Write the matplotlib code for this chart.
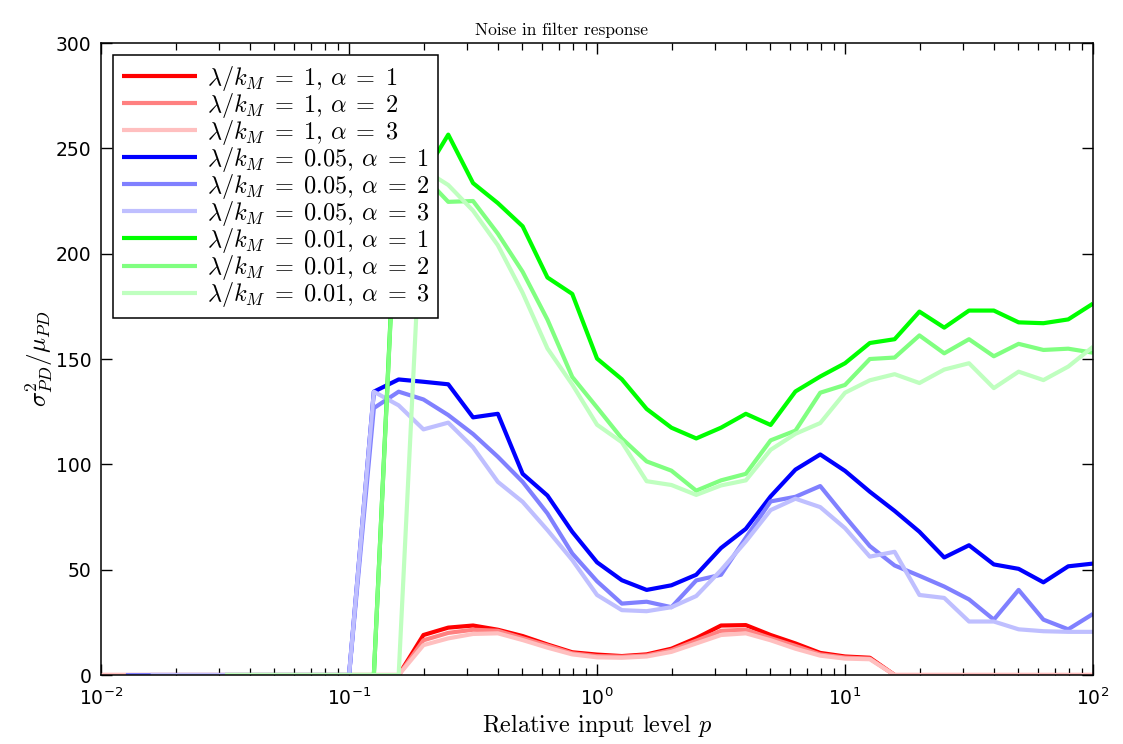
import numpy as np
import matplotlib
matplotlib.use('Agg')
import matplotlib.pyplot as plt

plt.rcParams['mathtext.fontset'] = 'cm'

nan = np.nan

# input level grid, 10 samples per decade from 1e-2 to 1e2
p = np.logspace(-2, 2, 41)

red1 = [0]*13 + [19, 22.5, 23.5, 21.5, 18.5, 14.5, 10.8, 9.7, 9, 9.8, 12.5, 17.5, 23.5, 23.7,
                 19, 15, 10.5, 8.8, 8.2] + [0]*9
red2 = [0]*13 + [16.5, 20, 21.5, 21, 17.5, 14, 10.3, 9, 8.7, 9.3, 11.8, 16.3, 21, 21.5,
                 17.5, 13.8, 9.8, 8.3, 7.8] + [0]*9
red3 = [0]*13 + [14.2, 17.4, 19.5, 19.8, 16.6, 13, 9.8, 8.4, 8.2, 8.8, 11, 15, 19, 19.8,
                 16.5, 12.5, 9.2, 7.8, 7.5] + [0]*9

blue1 = [nan]*2 + [0]*9 + [134.5, 140.3, 139.2, 138, 122.3, 124, 95.5, 85.2, 68, 53.5, 45, 40.4,
                           42.6, 47.6, 60.3, 69.4, 84.8, 97.5, 104.7, 96.9, 87, 77.9, 68, 55.8,
                           61.6, 52.5, 50.4, 44, 51.6, 52.9]
blue2 = [nan]*1 + [0]*10 + [126.7, 134.5, 130.8, 123.4, 114.4, 103.6, 91.7, 76.7, 57.7, 44.5, 33.9,
                            34.8, 32.2, 44.9, 47.6, 65.2, 82.4, 84.6, 89.7, 75.2, 61.2, 52, 47.1,
                            42, 35.9, 26.3, 40.4, 26.3, 21.7, 29]
blue3 = [nan]*2 + [0]*9 + [134.5, 128, 116.6, 119.8, 108.1, 91.7, 82.2, 68.8, 54.6, 38, 30.8, 30.3,
                           32.2, 37.5, 49.8, 63.4, 78.3, 83.7, 79.7, 69.7, 56.2, 58.5, 38, 36.6,
                           25.4, 25.4, 21.7, 20.8, 20.5, 20.5]

green1 = [nan]*5 + [0]*7 + [252, 237, 256.5, 233.5, 224, 213, 188.7, 180.9, 150.2, 140.4, 126.3,
                            117.4, 112.3, 117.4, 124, 118.7, 134.6, 141.7, 148, 157.6, 159.4,
                            172.5, 164.9, 173, 173, 167.4, 167, 168.8, 176.3]
green2 = [nan]*5 + [0]*7 + [250, 237, 224.6, 225, 209.5, 191.4, 168.7, 141.5, 127, 112.3, 101.4,
                            97, 87.5, 92.4, 95.5, 111.4, 116, 134, 137.7, 150, 150.7, 161.2,
                            152.7, 159.4, 151.3, 157.2, 154.3, 154.9, 153]
green3 = [nan]*5 + [0]*8 + [240, 232.6, 220.4, 204, 181.4, 155, 137.9, 118.8, 110.5, 92, 90.2,
                            85.5, 90, 92.4, 106.9, 114.5, 119.6, 134, 139.9, 142.8, 138.6, 145,
                            148, 136.2, 144, 140, 146.4, 155.8]

series = [red1, red2, red3, blue1, blue2, blue3, green1, green2, green3]
colors = [(1, 0, 0), (1, 0.5, 0.5), (1, 0.75, 0.75),
          (0, 0, 1), (0.5, 0.5, 1), (0.75, 0.75, 1),
          (0, 1, 0), (0.5, 1, 0.5), (0.75, 1, 0.75)]
lam_vals = ['1', '1', '1', '0.05', '0.05', '0.05', '0.01', '0.01', '0.01']
alpha_vals = ['1', '2', '3'] * 3
labels = [r'$\lambda/k_M\;=\;%s$, $\alpha\;=\;%s$' % (l, a) for l, a in zip(lam_vals, alpha_vals)]

fig = plt.figure(figsize=(11.23, 7.44), dpi=100)
ax = fig.add_axes([0.09, 0.0927, 0.8833, 0.8495])

for y, c, lab in zip(series, colors, labels):
    ax.plot(p, y, color=c, lw=3.0, label=lab, solid_capstyle='butt')

ax.set_xscale('log')
ax.set_xlim(1e-2, 1e2)
ax.set_ylim(0, 300)

xt = [1e-2, 1e-1, 1e0, 1e1, 1e2]
ax.set_xticks(xt, [r'$10^{-2}$', r'$10^{-1}$', r'$10^{0}$', r'$10^{1}$', r'$10^{2}$'])
for t in ax.get_xticklabels():
    t.set_math_fontfamily('dejavusans')
ax.set_yticks([0, 50, 100, 150, 200, 250, 300])
ax.tick_params(which='both', direction='in', top=True, right=True, labelsize=13.5)
ax.tick_params(which='major', length=8, width=1, pad=7)
ax.tick_params(axis='x', which='major', pad=9)
ax.tick_params(which='minor', length=5, width=0.9)
for s in ax.spines.values():
    s.set_linewidth(1.1)

ax.set_title('Noise in filter response', fontfamily='cmr10', fontsize=12.5, pad=6, x=0.464)
ax.set_xlabel(r'Relative input level $p$', fontfamily='cmr10', fontsize=17.5, labelpad=2)
ax.set_ylabel(r'$\sigma^2_{PD}/\mu_{PD}$', fontsize=18, labelpad=0)

leg = ax.legend(loc='upper left', prop={'family': 'cmr10', 'size': 17.5}, fancybox=False,
                edgecolor='black', framealpha=1, borderaxespad=0.5, handlelength=3.1,
                handletextpad=0.4, labelspacing=-0.08, borderpad=0.35)
leg.get_frame().set_linewidth(1.1)

fig.savefig('out.png', dpi=100)
